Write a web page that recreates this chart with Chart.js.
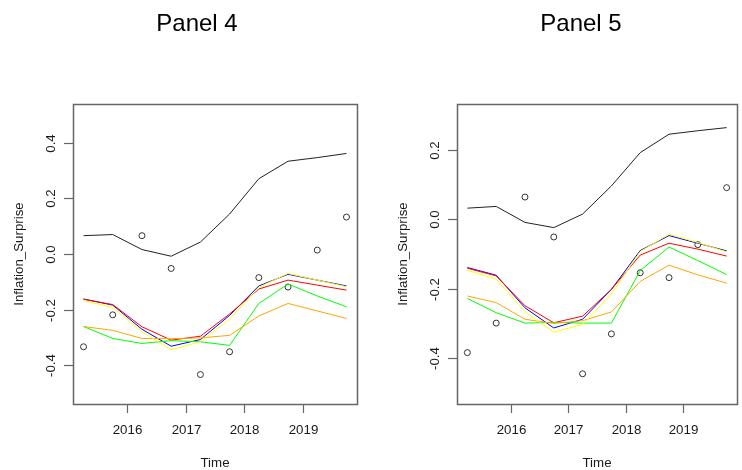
<!DOCTYPE html>
<html>
<head>
<meta charset="utf-8">
<script src="https://cdn.jsdelivr.net/npm/chart.js@4.4.0/dist/chart.umd.min.js"></script>
<style>
  html, body { margin: 0; padding: 0; background: #ffffff; }
  #wrap { position: relative; width: 742px; height: 470px; overflow: hidden; }
  .panel { position: absolute; top: 0; width: 371px; height: 470px; }
</style>
</head>
<body>
<div id="wrap">
  <div class="panel" style="left:0px"><canvas id="c4" width="371" height="470"></canvas></div>
  <div class="panel" style="left:371px"><canvas id="c5" width="371" height="470"></canvas></div>
</div>
<script>
// ---------- DATA ----------
const times = [2015.25, 2015.75, 2016.25, 2016.75, 2017.25, 2017.75, 2018.25, 2018.75, 2019.25, 2019.75];
const xTicks = [2016, 2017, 2018, 2019];
const xTickLabels = ["2016", "2017", "2018", "2019"];

// Panel 4
const p4Actual = [-0.334, -0.219, 0.066, -0.052, -0.434, -0.352, -0.085, -0.119, 0.014, 0.133];
const p4Black  = [0.066, 0.070, 0.016, -0.008, 0.043, 0.144, 0.271, 0.334, 0.347, 0.362];
const p4Blue   = [-0.162, -0.184, -0.271, -0.332, -0.308, -0.221, -0.115, -0.073, -0.094, -0.115];
const p4Red    = [-0.163, -0.182, -0.262, -0.310, -0.296, -0.216, -0.126, -0.094, -0.112, -0.130];
const p4Yellow = [-0.168, -0.192, -0.280, -0.344, -0.316, -0.234, -0.120, -0.070, -0.094, -0.118];
const p4Green  = [-0.261, -0.304, -0.322, -0.312, -0.316, -0.329, -0.178, -0.108, -0.151, -0.190];
const p4Orange = [-0.261, -0.275, -0.304, -0.305, -0.302, -0.293, -0.223, -0.178, -0.205, -0.232];
const p4YTicks = [-0.4, -0.2, 0.0, 0.2, 0.4];
const p4YTickLabels = ["-0.4", "-0.2", "0.0", "0.2", "0.4"];

// Panel 5
const p5Actual = [-0.384, -0.299, 0.064, -0.051, -0.445, -0.330, -0.154, -0.168, -0.073, 0.091];
const p5Black  = [0.032, 0.037, -0.009, -0.024, 0.015, 0.096, 0.192, 0.245, 0.255, 0.264];
const p5Blue   = [-0.139, -0.161, -0.255, -0.313, -0.288, -0.202, -0.090, -0.047, -0.069, -0.091];
const p5Red    = [-0.141, -0.163, -0.249, -0.298, -0.279, -0.202, -0.103, -0.069, -0.086, -0.106];
const p5Yellow = [-0.147, -0.172, -0.266, -0.325, -0.303, -0.215, -0.093, -0.043, -0.067, -0.094];
const p5Green  = [-0.228, -0.269, -0.299, -0.297, -0.299, -0.299, -0.148, -0.080, -0.119, -0.159];
const p5Orange = [-0.221, -0.240, -0.288, -0.300, -0.292, -0.267, -0.179, -0.132, -0.160, -0.184];
const p5YTicks = [-0.4, -0.2, 0.0, 0.2];
const p5YTickLabels = ["-0.4", "-0.2", "0.0", "0.2"];

// ---------- RENDER ----------
const FONT = "'Liberation Sans', Arial, Helvetica, sans-serif";

function pts(vals) { return times.map((t, i) => ({ x: t, y: vals[i] })); }

function lineDs(vals, color) {
  return { type: 'line', data: pts(vals), borderColor: color, borderWidth: 1, pointRadius: 0,
           tension: 0, fill: false, showLine: true };
}

const rFrame = {
  id: 'rFrame',
  afterDraw(chart, args, o) {
    const ctx = chart.ctx, a = chart.chartArea, xs = chart.scales.x, ys = chart.scales.y;
    ctx.save();
    // box
    ctx.strokeStyle = '#666666';
    ctx.lineWidth = 1.5;
    ctx.strokeRect(Math.round(a.left) + 0.5, Math.round(a.top) + 0.5,
                   Math.round(a.right - a.left), Math.round(a.bottom - a.top));
    ctx.lineWidth = 1.2;
    ctx.fillStyle = '#1a1a1a';
    ctx.font = '13.3px ' + FONT;
    // x ticks
    ctx.textAlign = 'center';
    ctx.textBaseline = 'alphabetic';
    o.xTicks.forEach((v, i) => {
      const px = Math.round(xs.getPixelForValue(v)) + 0.5;
      ctx.beginPath(); ctx.moveTo(px, a.bottom); ctx.lineTo(px, a.bottom + 9); ctx.stroke();
      ctx.fillText(o.xTickLabels[i], px, 434);
    });
    // y ticks (rotated labels, R las=0)
    o.yTicks.forEach((v, i) => {
      const py = Math.round(ys.getPixelForValue(v)) + 0.5;
      ctx.beginPath(); ctx.moveTo(a.left, py); ctx.lineTo(a.left - 9, py); ctx.stroke();
      ctx.save();
      ctx.translate(a.left - 18, py);
      ctx.rotate(-Math.PI / 2);
      ctx.textAlign = 'center';
      ctx.textBaseline = 'alphabetic';
      ctx.fillText(o.yTickLabels[i], 0, 0);
      ctx.restore();
    });
    // axis titles
    ctx.textAlign = 'center';
    ctx.fillText('Time', (a.left + a.right) / 2, 466.5);
    ctx.save();
    ctx.translate(a.left - 50, (a.top + a.bottom) / 2);
    ctx.rotate(-Math.PI / 2);
    ctx.fillText('Inflation_Surprise', 0, 0);
    ctx.restore();
    // main title
    ctx.fillStyle = '#000000';
    ctx.font = '24px ' + FONT;
    ctx.fillText(o.title, a.left + 124, 31);
    ctx.restore();
  }
};

function makePanel(id, padLeft, padRight, yMin, yMax, title, actual, black, blue, red, yellow, green, orange, yTicks, yTickLabels) {
  return new Chart(document.getElementById(id), {
    type: 'line',
    data: {
      datasets: [
        lineDs(black, '#222222'),
        lineDs(yellow, '#FFFF00'),
        lineDs(orange, '#FFA500'),
        lineDs(green, '#00FF00'),
        lineDs(red, '#FF0000'),
        lineDs(blue, '#0000FF'),
        { type: 'scatter', data: pts(actual), showLine: false, pointStyle: 'circle', pointRadius: 3,
          pointBorderWidth: 1, pointBorderColor: '#333333', pointBackgroundColor: 'rgba(0,0,0,0)',
          borderColor: '#333333', backgroundColor: 'rgba(0,0,0,0)' }
      ]
    },
    options: {
      responsive: false,
      animation: false,
      devicePixelRatio: 1,
      layout: { padding: { left: padLeft, right: padRight, top: 104, bottom: 66 } },
      plugins: {
        legend: { display: false }, tooltip: { enabled: false }, title: { display: false },
        rFrame: { title: title, xTicks: xTicks, xTickLabels: xTickLabels, yTicks: yTicks, yTickLabels: yTickLabels }
      },
      scales: {
        x: { type: 'linear', min: 2015.07, max: 2019.93, display: false },
        y: { type: 'linear', min: yMin, max: yMax, display: false }
      }
    },
    plugins: [rFrame]
  });
}

makePanel('c4', 73, 14, -0.54, 0.54, 'Panel 4', p4Actual, p4Black, p4Blue, p4Red, p4Yellow, p4Green, p4Orange, p4YTicks, p4YTickLabels);
makePanel('c5', 86, 2, -0.532, 0.332, 'Panel 5', p5Actual, p5Black, p5Blue, p5Red, p5Yellow, p5Green, p5Orange, p5YTicks, p5YTickLabels);
</script>
</body>
</html>
